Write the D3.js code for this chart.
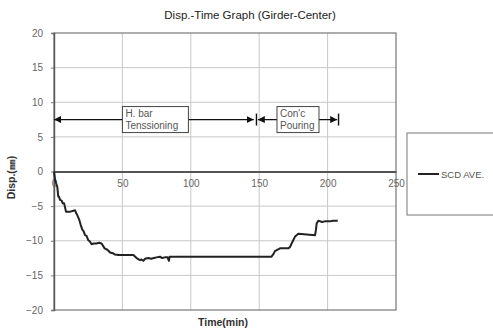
<!DOCTYPE html>
<html>
<head>
<meta charset="utf-8">
<script src="https://cdn.jsdelivr.net/npm/d3@7"></script>
<style>
  body { margin: 0; background: #fff; }
  svg { display: block; font-family: "Liberation Sans", "DejaVu Sans", sans-serif; }
</style>
</head>
<body>
<div id="chart"></div>
<script>
// data
const timeMin = [0, 0.8, 1.5, 2.4, 3.1, 3.6, 4.4, 5.6, 6.4, 7.4, 8.8, 12, 15.4, 16.2, 17, 18.5, 19.5, 20.7, 21.6, 22.7, 23.8, 25, 26.2, 27.5, 29, 31, 33, 34.8, 37, 39, 41, 43, 44.6, 47, 58, 60.4, 62.9, 64, 65.3, 66.5, 69, 71, 73, 75, 77.5, 79, 81, 83, 84, 84.5, 120, 159, 160.5, 161.5, 165.2, 171.3, 172.5, 173.7, 176.2, 178.6, 190.8, 191.5, 192, 193.2, 196, 198, 201.7, 204, 207.4];
const dispAve = [0, -1.2, -1.7, -2.2, -3.6, -3.6, -4.1, -4.2, -4.6, -4.6, -5.8, -5.8, -5.6, -6.0, -6.3, -7.0, -7.7, -8.4, -8.6, -9.2, -9.3, -9.9, -10.1, -10.5, -10.4, -10.4, -10.3, -10.4, -11.1, -11.3, -11.7, -11.8, -12.0, -12.05, -12.05, -12.5, -12.8, -12.7, -12.9, -12.6, -12.5, -12.6, -12.5, -12.4, -12.3, -12.5, -12.4, -12.4, -12.9, -12.3, -12.3, -12.3, -11.9, -11.5, -11.1, -11.1, -10.9, -10.4, -9.4, -9.0, -9.2, -8.4, -7.5, -7.1, -7.3, -7.2, -7.2, -7.1, -7.1];
const xTicks = [0, 50, 100, 150, 200, 250];
const yTicks = [20, 15, 10, 5, 0, -5, -10, -15, -20];
const phases = [
  { name: ['H. bar', 'Tenssioning'], from: 0, to: 146, barAt: 148, label: 50 },
  { name: ['Con\'c', 'Pouring'], from: 149, to: 207, barAt: 208, label: 163 }
];
const phaseLevel = 7.5;
const seriesName = 'SCD AVE.';

const W = 493, H = 331;
const margin = { top: 33, right: 97, bottom: 21, left: 54 };
const width = W - margin.left - margin.right;
const height = H - margin.top - margin.bottom;

const svg = d3.select('#chart').append('svg')
  .attr('width', W)
  .attr('height', H);

const defs = svg.append('defs');
defs.append('marker')
  .attr('id', 'arr')
  .attr('viewBox', '0 0 10 10')
  .attr('refX', 10).attr('refY', 5)
  .attr('markerWidth', 7).attr('markerHeight', 7)
  .attr('markerUnits', 'userSpaceOnUse')
  .attr('orient', 'auto-start-reverse')
  .append('path').attr('d', 'M0,0 L10,5 L0,10 z').attr('fill', '#111');

const g = svg.append('g')
  .attr('transform', 'translate(' + margin.left + ',' + margin.top + ')');

const x = d3.scaleLinear().domain([0, 250]).range([0, width]);
const y = d3.scaleLinear().domain([-20, 20]).range([height, 0]);

// grid
g.append('g').selectAll('line')
  .data(xTicks.slice(1, -1))
  .enter().append('line')
  .attr('x1', d => x(d)).attr('x2', d => x(d))
  .attr('y1', 0).attr('y2', height)
  .attr('stroke', '#c8c8c8').attr('stroke-width', 1);
g.append('g').selectAll('line')
  .data(yTicks.filter(d => d !== 0 && Math.abs(d) !== 20))
  .enter().append('line')
  .attr('x1', 0).attr('x2', width)
  .attr('y1', d => y(d)).attr('y2', d => y(d))
  .attr('stroke', '#c8c8c8').attr('stroke-width', 1);

// frame
g.append('rect')
  .attr('width', width).attr('height', height)
  .attr('fill', 'none').attr('stroke', '#777').attr('stroke-width', 1.2);

// y axis
const yAxis = g.append('g')
  .call(d3.axisLeft(y).tickValues(yTicks).tickSize(3).tickPadding(8));
yAxis.select('.domain').attr('stroke', '#555').attr('stroke-width', 1.4);
yAxis.selectAll('.tick line').attr('stroke', '#777');
yAxis.selectAll('text').attr('fill', '#666').attr('font-size', 10);

// x axis along zero
const xAxis = g.append('g')
  .attr('transform', 'translate(0,' + y(0) + ')')
  .call(d3.axisBottom(x).tickValues(xTicks).tickSize(0).tickPadding(8));
xAxis.select('.domain').attr('stroke', '#555').attr('stroke-width', 2);
xAxis.selectAll('text').attr('fill', '#666').attr('font-size', 10);

// phase annotations
phases.forEach(p => {
  g.append('line')
    .attr('x1', x(p.to)).attr('x2', x(p.from))
    .attr('y1', y(phaseLevel)).attr('y2', y(phaseLevel))
    .attr('stroke', '#111').attr('stroke-width', 1.2)
    .attr('marker-start', 'url(#arr)')
    .attr('marker-end', 'url(#arr)');
  g.append('line')
    .attr('x1', x(p.barAt)).attr('x2', x(p.barAt))
    .attr('y1', y(phaseLevel) - 6).attr('y2', y(phaseLevel) + 6)
    .attr('stroke', '#111').attr('stroke-width', 1.4);
  const bx = x(p.label);
  const bw = p.name[1].length > 8 ? 66 : 42;
  g.append('rect')
    .attr('x', bx).attr('y', y(phaseLevel) - 13)
    .attr('width', bw).attr('height', 26)
    .attr('fill', '#fff').attr('stroke', '#444').attr('stroke-width', 1);
  const t = g.append('text')
    .attr('x', bx + 3).attr('y', y(phaseLevel) - 3)
    .attr('font-size', 10).attr('fill', '#555');
  p.name.forEach((s, i) => {
    t.append('tspan').attr('x', bx + 3).attr('dy', i === 0 ? 0 : 12).text(s);
  });
});

// series line
const pts = timeMin.map((t, i) => [t, dispAve[i]]);
g.append('path')
  .datum(pts)
  .attr('fill', 'none')
  .attr('stroke', '#222')
  .attr('stroke-width', 2)
  .attr('stroke-linejoin', 'round')
  .attr('d', d3.line().x(d => x(d[0])).y(d => y(d[1])));

// title and labels
svg.append('text')
  .attr('x', 250).attr('y', 19)
  .attr('text-anchor', 'middle')
  .attr('font-size', 11.5).attr('fill', '#222')
  .text('Disp.-Time Graph (Girder-Center)');

svg.append('text')
  .attr('x', 223).attr('y', 326)
  .attr('text-anchor', 'middle')
  .attr('font-size', 10.5).attr('font-weight', 'bold').attr('fill', '#333')
  .text('Time(min)');

svg.append('text')
  .attr('transform', 'translate(15,' + (margin.top + y(0) + 6) + ') rotate(-90)')
  .attr('text-anchor', 'middle')
  .attr('font-size', 10.5).attr('font-weight', 'bold').attr('fill', '#333')
  .text('Disp.(㎜)');

// legend
const lg = svg.append('g').attr('transform', 'translate(407,133)');
lg.append('rect')
  .attr('width', 90).attr('height', 82)
  .attr('fill', '#fff').attr('stroke', '#777').attr('stroke-width', 1);
lg.append('line')
  .attr('x1', 11).attr('x2', 32).attr('y1', 41).attr('y2', 41)
  .attr('stroke', '#222').attr('stroke-width', 2);
lg.append('text')
  .attr('x', 34).attr('y', 45)
  .attr('font-size', 9.5).attr('fill', '#555')
  .text(seriesName);
</script>
</body>
</html>
